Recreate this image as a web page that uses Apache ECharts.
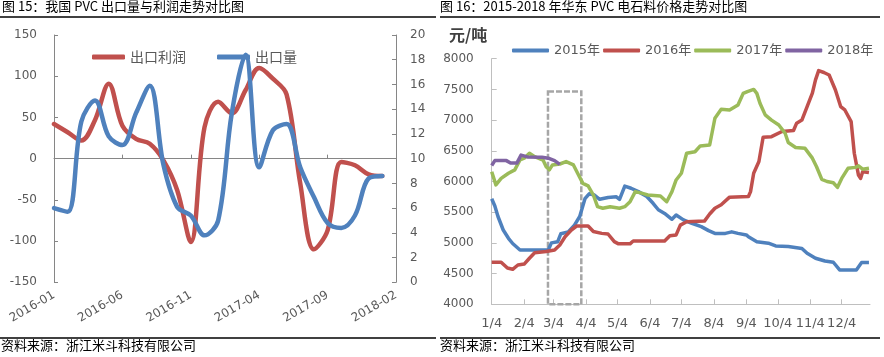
<!DOCTYPE html>
<html>
<head>
<meta charset="utf-8">
<script src="https://cdn.jsdelivr.net/npm/echarts@6/dist/echarts.min.js"></script>
<style>
html,body{margin:0;padding:0;background:#fff;}
#c{width:884px;height:357px;}
</style>
</head>
<body>
<div id="c"></div>
<script>
// ---------- Left chart (图15) ----------
const leftMonths = ['2016-01','2016-02','2016-03','2016-04','2016-05','2016-06','2016-07','2016-08','2016-09','2016-10','2016-11','2016-12',
  '2017-01','2017-02','2017-03','2017-04','2017-05','2017-06','2017-07','2017-08','2017-09','2017-10','2017-11','2017-12','2018-01','2018-02'];
const exportProfit = [42, 32, 22, 47, 91, 40, 24, 18, -2, -38, -101, 38, 69, 55, 83, 110, 97, 78, -30, -110, -87, -4, -8, -19, -21];
const exportVolume = [6.0, 5.7, 13.0, 14.7, 11.8, 11.1, 13.7, 15.9, 9.5, 6.1, 5.4, 3.8, 5.0, 13.7, 18.4, 9.3, 12.3, 12.8, 9.3, 6.9, 4.8, 4.4, 5.4, 8.4, 8.6];

// ---------- Right chart (图16) ----------
const monthTickDays = [0, 31, 59, 90, 120, 151, 181, 212, 243, 273, 304, 334];
const monthTickLabels = ['1/4','2/4','3/4','4/4','5/4','6/4','7/4','8/4','9/4','10/4','11/4','12/4'];
// [days since 1/4, price 元/吨]
const price2015 = [[0,5720],[3,5600],[6,5430],[11,5210],[16,5075],[20,4990],[27,4885],[54,4885],[57,5000],[63,5020],[66,5150],[73,5180],[79,5290],[84,5430],[89,5720],[93,5800],[98,5780],[103,5710],[111,5740],[119,5750],[122,5710],[127,5925],[133,5890],[140,5835],[148,5755],[154,5645],[159,5540],[165,5480],[172,5385],[176,5455],[183,5375],[191,5320],[200,5265],[207,5200],[213,5155],[223,5155],[229,5180],[235,5155],[243,5130],[245,5100],[253,5020],[264,4995],[271,4950],[283,4940],[296,4910],[301,4830],[309,4750],[318,4705],[326,4685],[332,4560],[348,4560],[353,4680],[360,4680]];
const price2016 = [[0,4685],[9,4685],[15,4590],[20,4570],[25,4640],[31,4655],[36,4750],[41,4840],[52,4860],[60,4885],[65,4965],[70,5100],[76,5210],[81,5275],[92,5275],[97,5185],[105,5155],[111,5145],[117,5020],[121,4985],[132,4985],[135,5030],[165,5030],[170,5115],[176,5130],[180,5290],[186,5345],[203,5355],[208,5470],[213,5565],[219,5620],[227,5745],[245,5755],[247,5835],[250,6135],[255,6325],[259,6720],[267,6730],[277,6815],[288,6830],[291,6950],[296,7000],[301,7220],[306,7440],[309,7655],[312,7805],[317,7775],[322,7735],[328,7490],[333,7220],[337,7165],[343,6975],[346,6460],[350,6105],[352,6050],[354,6160],[360,6145]];
const price2017 = [[0,6160],[4,5945],[9,6050],[16,6135],[22,6190],[27,6350],[31,6380],[36,6460],[41,6405],[49,6350],[52,6240],[55,6190],[58,6270],[65,6285],[71,6325],[78,6270],[82,6135],[87,5970],[92,5930],[97,5780],[101,5590],[106,5565],[113,5590],[122,5565],[127,5590],[132,5670],[137,5835],[143,5810],[149,5780],[161,5765],[167,5670],[172,5835],[176,6025],[181,6135],[186,6460],[194,6485],[199,6580],[208,6595],[213,7030],[219,7175],[227,7165],[235,7245],[240,7435],[244,7465],[250,7500],[253,7435],[256,7275],[261,7085],[267,7000],[274,6920],[280,6785],[283,6635],[290,6555],[299,6540],[306,6380],[310,6240],[315,6035],[320,6000],[326,5980],[330,5905],[334,6050],[340,6215],[347,6230],[350,6255],[354,6200],[360,6215]];
const price2018 = [[0,6260],[3,6340],[14,6340],[18,6300],[24,6300],[28,6430],[34,6400],[48,6395],[54,6380],[60,6340],[65,6280]];
const highlightBox = [[53.7, 7465], [85.5, 4000]];

const RED = '#C0504D', BLUE = '#4F81BD', GREEN = '#9BBB59', PURPLE = '#8064A2';
const AXIS = '#868686', TXT = '#595959';
const NUMFONT = '"DejaVu Sans", "Noto Sans CJK SC", sans-serif';
const CJK = '"Noto Sans CJK SC", sans-serif';

const chart = echarts.init(document.getElementById('c'), null, {renderer: 'canvas'});

const option = {
  animation: false,
  backgroundColor: '#fff',
  textStyle: {fontFamily: NUMFONT},
  grid: [
    {left: 54, top: 35, width: 342, height: 247.3, containLabel: false},
    {left: 491.7, top: 58.7, width: 378.3, height: 245.6, containLabel: false}
  ],
  legend: [
    {
      data: ['出口利润', '出口量'],
      left: 87, top: 45, itemWidth: 33, itemHeight: 5, itemGap: 31, icon: 'roundRect',
      textStyle: {fontFamily: CJK, fontSize: 14, color: TXT}
    },
    {
      data: ['2015年', '2016年', '2017年', '2018年'],
      left: 507, top: 39, itemWidth: 37, itemHeight: 4, itemGap: 3, icon: 'roundRect',
      textStyle: {fontFamily: NUMFONT, fontSize: 13, color: TXT}
    }
  ],
  xAxis: [
    { // zero line with ticks
      type: 'category', gridIndex: 0, data: leftMonths, boundaryGap: false, position: 'top',
      axisLine: {onZero: true, lineStyle: {color: AXIS, width: 1}},
      axisTick: {interval: 4, inside: false, length: 4, lineStyle: {color: AXIS}},
      axisLabel: {show: false}, splitLine: {show: false}
    },
    { // label axis at bottom
      type: 'category', gridIndex: 0, data: leftMonths, boundaryGap: false, position: 'bottom',
      axisLine: {show: false, onZero: false}, axisTick: {show: false},
      axisLabel: {interval: 4, rotate: 30, margin: 12, fontSize: 12, color: TXT, fontFamily: NUMFONT},
      splitLine: {show: false}
    },
    {
      type: 'value', gridIndex: 1, min: 0, max: 361,
      axisLine: {show: true, lineStyle: {color: '#BFBFBF'}},
      axisTick: {show: true, inside: true, length: 5, customValues: monthTickDays, lineStyle: {color: '#BFBFBF'}},
      axisLabel: {
        customValues: monthTickDays, margin: 13, fontSize: 13, color: TXT, fontFamily: NUMFONT,
        formatter: function (v) { const i = monthTickDays.indexOf(v); return i >= 0 ? monthTickLabels[i] : ''; }
      },
      splitLine: {show: false}
    }
  ],
  yAxis: [
    {
      type: 'value', gridIndex: 0, min: -150, max: 150, interval: 50,
      axisLine: {show: true, lineStyle: {color: AXIS}},
      axisTick: {show: true, inside: true, length: 4, lineStyle: {color: AXIS}},
      axisLabel: {margin: 17, fontSize: 12, color: TXT, fontFamily: NUMFONT},
      splitLine: {show: false}
    },
    {
      type: 'value', gridIndex: 0, position: 'right', min: 0, max: 20, interval: 2,
      axisLine: {show: true, lineStyle: {color: AXIS}},
      axisTick: {show: true, inside: true, length: 4, lineStyle: {color: AXIS}},
      axisLabel: {margin: 14, fontSize: 12, color: TXT, fontFamily: NUMFONT},
      splitLine: {show: false}
    },
    {
      type: 'value', gridIndex: 1, min: 4000, max: 8000, interval: 500,
      axisLine: {show: true, lineStyle: {color: '#BFBFBF'}},
      axisTick: {show: true, inside: true, length: 5, lineStyle: {color: '#BFBFBF'}},
      axisLabel: {margin: 18, fontSize: 12, color: TXT, fontFamily: NUMFONT, formatter: function (v) { return String(v); }},
      splitLine: {show: false}
    }
  ],
  series: [
    {
      name: '出口利润', type: 'line', xAxisIndex: 1, yAxisIndex: 0, data: exportProfit,
      smooth: 0.35, showSymbol: false, symbol: 'none', color: RED,
      lineStyle: {width: 4.5, color: RED, cap: 'round', join: 'round'}
    },
    {
      name: '出口量', type: 'line', xAxisIndex: 1, yAxisIndex: 1, data: exportVolume,
      smooth: 0.35, showSymbol: false, symbol: 'none', color: BLUE,
      lineStyle: {width: 4.5, color: BLUE, cap: 'round', join: 'round'}
    },
    {
      name: '2015年', type: 'line', xAxisIndex: 2, yAxisIndex: 2, data: price2015,
      showSymbol: false, symbol: 'none', color: BLUE, lineStyle: {width: 3.5, color: BLUE, join: 'round'},
      z: 3
    },
    {
      name: '2016年', type: 'line', xAxisIndex: 2, yAxisIndex: 2, data: price2016,
      showSymbol: false, symbol: 'none', color: RED, lineStyle: {width: 3.5, color: RED, join: 'round'},
      z: 4
    },
    {
      name: '2017年', type: 'line', xAxisIndex: 2, yAxisIndex: 2, data: price2017,
      showSymbol: false, symbol: 'none', color: GREEN, lineStyle: {width: 3.5, color: GREEN, join: 'round'},
      z: 5,
      markArea: {
        silent: true,
        itemStyle: {color: 'rgba(0,0,0,0)', borderColor: '#A6A6A6', borderWidth: 2.5, borderType: [6, 2]},
        data: [[{coord: highlightBox[0]}, {coord: highlightBox[1]}]]
      }
    },
    {
      name: '2018年', type: 'line', xAxisIndex: 2, yAxisIndex: 2, data: price2018,
      showSymbol: false, symbol: 'none', color: PURPLE, lineStyle: {width: 3.5, color: PURPLE, join: 'round'},
      z: 6
    }
  ],
  graphic: [
    {type: 'text', left: 2, top: 0, style: {text: '图 15：我国 PVC 出口量与利润走势对比图', font: '13px "Noto Sans CJK SC"', fill: '#000'}},
    {type: 'text', left: 440, top: 0, style: {text: '图 16：2015-2018 年华东 PVC 电石料价格走势对比图', font: '13px "Noto Sans CJK SC"', fill: '#000'}},
    {type: 'line', shape: {x1: 0, y1: 17, x2: 436, y2: 17}, style: {stroke: '#000', lineWidth: 1.5}},
    {type: 'line', shape: {x1: 440, y1: 17, x2: 880, y2: 17}, style: {stroke: '#000', lineWidth: 1.5}},
    {type: 'line', shape: {x1: 0, y1: 338, x2: 436, y2: 338}, style: {stroke: '#000', lineWidth: 1.5}},
    {type: 'line', shape: {x1: 440, y1: 338, x2: 880, y2: 338}, style: {stroke: '#000', lineWidth: 1.5}},
    {type: 'text', left: 1, top: 339, style: {text: '资料来源：浙江米斗科技有限公司', font: '13px "Noto Sans CJK SC"', fill: '#000'}},
    {type: 'text', left: 440, top: 339, style: {text: '资料来源：浙江米斗科技有限公司', font: '13px "Noto Sans CJK SC"', fill: '#000'}},
    {type: 'text', left: 449, top: 27, style: {text: '元/吨', font: 'bold 16px "Noto Sans CJK SC"', fill: '#404040'}}
  ]
};
chart.setOption(option);
</script>
</body>
</html>
